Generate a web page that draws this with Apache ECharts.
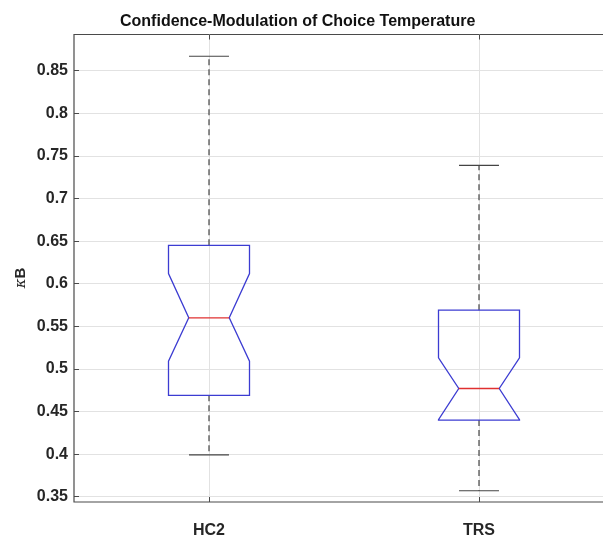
<!DOCTYPE html>
<html>
<head>
<meta charset="utf-8">
<script src="https://cdn.jsdelivr.net/npm/echarts@6/dist/echarts.min.js"></script>
<style>html,body{margin:0;padding:0;background:#fff;}#c{width:603px;height:537px;}</style>
</head>
<body>
<div id="c"></div>
<script>
const categories = ['HC2', 'TRS'];
const whiskerHigh = [0.867, 0.739];
const q3 = [0.645, 0.569];
const notchHigh = [0.612, 0.513];
const median = [0.560, 0.477];
const notchLow = [0.509, 0.4405];
const q1 = [0.469, 0.440];
const whiskerLow = [0.399, 0.357];
const yTicks = [0.35, 0.4, 0.45, 0.5, 0.55, 0.6, 0.65, 0.7, 0.75, 0.8, 0.85];
const xTicks = [1, 2];

const boxData = categories.map((c, i) => [i + 1, whiskerLow[i], q1[i], notchLow[i], median[i], notchHigh[i], q3[i], whiskerHigh[i]]);

const chart = echarts.init(document.getElementById('c'), null, {renderer: 'canvas'});
const axisColor = '#4a4a4a';
const gridColor = '#e2e2e2';
const labelStyle = {color: '#262626', fontWeight: 'bold', fontSize: 16, fontFamily: 'Liberation Sans, Arial, sans-serif'};

chart.setOption({
  animation: false,
  backgroundColor: '#fff',
  title: {
    text: 'Confidence-Modulation of Choice Temperature',
    left: 120, top: 14, padding: 0,
    textStyle: {fontSize: 16, fontWeight: 'bold', color: '#111', fontFamily: 'Liberation Sans, Arial, sans-serif'}
  },
  grid: {left: 74, top: 34.5, right: -11, bottom: 35, show: true, borderColor: axisColor, borderWidth: 1.2, backgroundColor: '#fff', outerBoundsMode: 'none', containLabel: false},
  xAxis: [{
    type: 'value', min: 0.5, max: 2.5, position: 'bottom',
    axisLine: {show: false},
    axisTick: {show: true, inside: true, length: 5, customValues: xTicks, lineStyle: {color: axisColor}},
    axisLabel: Object.assign({customValues: xTicks, margin: 21, formatter: v => categories[Math.round(v) - 1]}, labelStyle),
    splitLine: {show: true, lineStyle: {color: gridColor, width: 1}}
  }, {
    type: 'value', min: 0.5, max: 2.5, position: 'top',
    axisLine: {show: false},
    axisTick: {show: true, inside: true, length: 5, customValues: xTicks, lineStyle: {color: axisColor}},
    axisLabel: {show: false},
    splitLine: {show: false}
  }],
  yAxis: {
    type: 'value', min: 0.3438, max: 0.8925,
    axisLine: {show: false},
    axisTick: {show: true, inside: true, length: 5, customValues: yTicks, lineStyle: {color: axisColor}},
    axisLabel: Object.assign({customValues: yTicks, margin: 6}, labelStyle),
    splitLine: {show: true, lineStyle: {color: gridColor, width: 1}}
  },
  graphic: [{
    type: 'text', x: 21, y: 278, rotation: Math.PI / 2,
    style: {
      text: '{k|κ}{b|B}', textAlign: 'center', textVerticalAlign: 'middle',
      rich: {
        k: {fontSize: 15, fontStyle: 'italic', fill: '#262626', fontFamily: 'DejaVu Serif, serif'},
        b: {fontSize: 15, fontWeight: 'bold', fill: '#262626', fontFamily: 'Liberation Sans, Arial, sans-serif'}
      }
    }
  }],
  series: [{
    type: 'custom',
    data: boxData,
    encode: {x: 0, y: [1, 2, 3, 4, 5, 6, 7]},
    renderItem: function (params, api) {
      const x = api.value(0);
      const wLo = api.value(1), b1 = api.value(2), nLo = api.value(3), med = api.value(4), nHi = api.value(5), b3 = api.value(6), wHi = api.value(7);
      const W = 0.15, N = 0.075, C = 0.074;
      const P = (dx, y) => api.coord([x + dx, y]);
      const pts = [P(-W, b3), P(W, b3), P(W, nHi), P(N, med), P(W, nLo), P(W, b1), P(-W, b1), P(-W, nLo), P(-N, med), P(-W, nHi)];
      const dash = {stroke: '#333', lineWidth: 1.1, lineDash: [6, 4]};
      const cap = {stroke: '#444', lineWidth: 1.2};
      return {
        type: 'group',
        children: [
          {type: 'line', shape: {x1: P(0, b3)[0], y1: P(0, b3)[1], x2: P(0, wHi)[0], y2: P(0, wHi)[1]}, style: dash},
          {type: 'line', shape: {x1: P(0, b1)[0], y1: P(0, b1)[1], x2: P(0, wLo)[0], y2: P(0, wLo)[1]}, style: dash},
          {type: 'line', shape: {x1: P(-C, wHi)[0], y1: P(-C, wHi)[1], x2: P(C, wHi)[0], y2: P(C, wHi)[1]}, style: cap},
          {type: 'line', shape: {x1: P(-C, wLo)[0], y1: P(-C, wLo)[1], x2: P(C, wLo)[0], y2: P(C, wLo)[1]}, style: cap},
          {type: 'polygon', shape: {points: pts}, style: {fill: 'rgba(255,255,255,0)', stroke: '#3c3cd2', lineWidth: 1.3}},
          {type: 'line', shape: {x1: P(-N, med)[0], y1: P(-N, med)[1], x2: P(N, med)[0], y2: P(N, med)[1]}, style: {stroke: '#e03030', lineWidth: 1.3}}
        ]
      };
    }
  }]
});
</script>
</body>
</html>
